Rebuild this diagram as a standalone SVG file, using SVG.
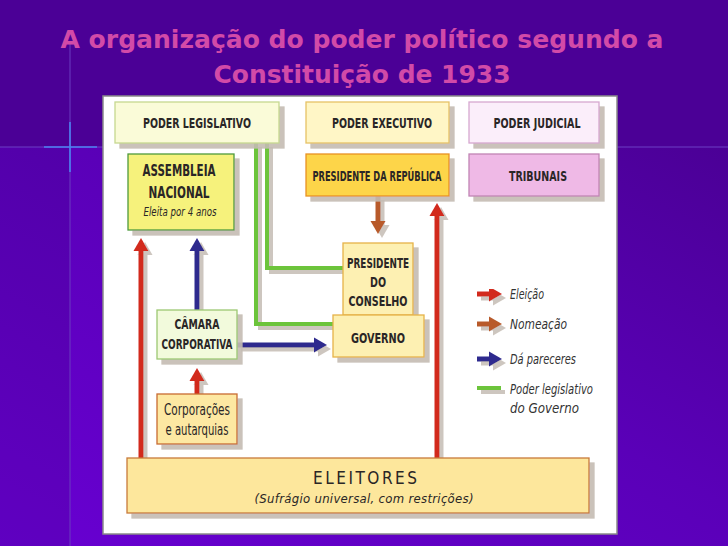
<svg xmlns="http://www.w3.org/2000/svg" width="728" height="546" viewBox="0 0 728 546">
<defs>
<linearGradient id="bgLow" x1="0" y1="1" x2="1" y2="0">
<stop offset="0" stop-color="#6800d2"/>
<stop offset="0.55" stop-color="#5a00b8"/>
<stop offset="1" stop-color="#4b0096"/>
</linearGradient>
<filter id="sh" x="-10%" y="-10%" width="130%" height="130%">
<feDropShadow dx="5" dy="5" stdDeviation="0.6" flood-color="#c4bcb2" flood-opacity="0.9"/>
</filter>
<filter id="ash" x="-20%" y="-5%" width="150%" height="120%">
<feDropShadow dx="4" dy="4" stdDeviation="0.5" flood-color="#c8c0b8" flood-opacity="0.9"/>
</filter>
<marker id="hRed" markerUnits="userSpaceOnUse" markerWidth="13" markerHeight="15" refX="0" refY="7.5" orient="auto" overflow="visible">
<path d="M0,0 L13,7.5 L0,15 Z" fill="#d22a1e"/>
</marker>
<marker id="hBlue" markerUnits="userSpaceOnUse" markerWidth="13" markerHeight="15" refX="0" refY="7.5" orient="auto" overflow="visible">
<path d="M0,0 L13,7.5 L0,15 Z" fill="#2e2a8e"/>
</marker>
<marker id="hBrown" markerUnits="userSpaceOnUse" markerWidth="13" markerHeight="15" refX="0" refY="7.5" orient="auto" overflow="visible">
<path d="M0,0 L13,7.5 L0,15 Z" fill="#b85a2a"/>
</marker>
<style>
.lbl{font-family:"DejaVu Sans Condensed","DejaVu Sans",sans-serif;font-stretch:condensed;font-weight:bold;font-size:14px;fill:#2a2626;text-anchor:middle}
.big{font-size:16px}
.it{font-family:"DejaVu Sans Condensed","DejaVu Sans",sans-serif;font-stretch:condensed;font-style:italic;font-size:13px;fill:#2a2626}
.leg{font-family:"DejaVu Sans Condensed","DejaVu Sans",sans-serif;font-stretch:condensed;font-style:italic;font-size:14px;fill:#333}
.box{stroke-width:1.3}
.red{stroke:#d22a1e;stroke-width:5;fill:none}
.blue{stroke:#2e2a8e;stroke-width:5;fill:none}
.brown{stroke:#b85a2a;stroke-width:5;fill:none}
.green{stroke:#6cc43a;stroke-width:4;fill:none}
.title{font-family:"DejaVu Sans",sans-serif;font-weight:bold;font-size:24px;fill:#d24aa8;text-anchor:middle}
</style>
</defs>
<!-- background -->
<rect x="0" y="0" width="728" height="546" fill="#4b0096"/>
<rect x="0" y="147" width="728" height="399" fill="url(#bgLow)"/>
<rect x="0" y="147" width="70" height="399" fill="#000" opacity="0.08"/>
<line x1="0" y1="147" x2="728" y2="147" stroke="#6d3ec4" stroke-width="1"/>
<line x1="70" y1="42" x2="70" y2="546" stroke="#6a3cc0" stroke-width="1"/>
<line x1="44" y1="147" x2="97" y2="147" stroke="#4c82f2" stroke-width="1.6"/>
<line x1="70" y1="122" x2="70" y2="172" stroke="#4c82f2" stroke-width="1.6"/>
<!-- title -->
<g id="title">
<text class="title" x="362" y="48" textLength="603" lengthAdjust="spacingAndGlyphs">A organização do poder político segundo a</text>
<text class="title" x="362" y="83" textLength="297" lengthAdjust="spacingAndGlyphs">Constituição de 1933</text>
</g>
<!-- panel -->
<rect x="103" y="96" width="514" height="438" fill="#ffffff" stroke="#8a8a8a" stroke-width="1.5"/>
<!-- connectors -->
<g id="connectors" filter="url(#ash)">
<path class="green" d="M256,143 V324 H333"/>
<path class="green" d="M267,143 V268 H343"/>
<path class="red" d="M141,458 V251" marker-end="url(#hRed)"/>
<path class="blue" d="M197,310 V251" marker-end="url(#hBlue)"/>
<path class="red" d="M197,394 V381" marker-end="url(#hRed)"/>
<path class="blue" d="M237,345 H314" marker-end="url(#hBlue)"/>
<path class="brown" d="M378,196 V221" marker-end="url(#hBrown)"/>
<path class="red" d="M437,458 V216" marker-end="url(#hRed)"/>
</g>
<!-- nodes -->
<g id="poder-legislativo">
<rect class="box" x="115" y="102" width="164" height="41" fill="#fafbd8" stroke="#c6d890" filter="url(#sh)"/>
<text class="lbl" x="197" y="128" textLength="108" lengthAdjust="spacingAndGlyphs">PODER LEGISLATIVO</text>
</g>
<g id="poder-executivo">
<rect class="box" x="306" y="102" width="143" height="41" fill="#fff6c6" stroke="#e6c266" filter="url(#sh)"/>
<text class="lbl" x="382" y="128" textLength="100" lengthAdjust="spacingAndGlyphs">PODER EXECUTIVO</text>
</g>
<g id="poder-judicial">
<rect class="box" x="469" y="102" width="130" height="41" fill="#fbeefa" stroke="#d6a8d0" filter="url(#sh)"/>
<text class="lbl" x="537" y="128" textLength="87" lengthAdjust="spacingAndGlyphs">PODER JUDICIAL</text>
</g>
<g id="assembleia-nacional">
<rect class="box" x="128" y="154" width="106" height="76" fill="#f6f27c" stroke="#4e9a3c" filter="url(#sh)"/>
<text class="lbl big" x="179" y="176" textLength="73" lengthAdjust="spacingAndGlyphs">ASSEMBLEIA</text>
<text class="lbl big" x="179" y="198" textLength="61" lengthAdjust="spacingAndGlyphs">NACIONAL</text>
<text class="it" x="180" y="216" text-anchor="middle" textLength="73" lengthAdjust="spacingAndGlyphs">Eleita por 4 anos</text>
</g>
<g id="presidente-republica">
<rect class="box" x="306" y="154" width="143" height="42" fill="#fdd548" stroke="#e89222" filter="url(#sh)"/>
<text class="lbl" x="377" y="181" textLength="129" lengthAdjust="spacingAndGlyphs">PRESIDENTE DA REPÚBLICA</text>
</g>
<g id="tribunais">
<rect class="box" x="469" y="154" width="130" height="42" fill="#efb9e6" stroke="#c084b4" filter="url(#sh)"/>
<text class="lbl" x="538" y="181" textLength="58" lengthAdjust="spacingAndGlyphs">TRIBUNAIS</text>
</g>
<g id="presidente-conselho">
<rect class="box" x="343" y="243" width="70" height="72" fill="#fdf0b2" stroke="#e6b248" filter="url(#sh)"/>
<text class="lbl" x="378" y="268" textLength="62" lengthAdjust="spacingAndGlyphs">PRESIDENTE</text>
<text class="lbl" x="378" y="287" textLength="16" lengthAdjust="spacingAndGlyphs">DO</text>
<text class="lbl" x="378" y="306" textLength="59" lengthAdjust="spacingAndGlyphs">CONSELHO</text>
</g>
<g id="governo">
<rect class="box" x="333" y="315" width="91" height="42" fill="#fdf0b2" stroke="#e6b248" filter="url(#sh)"/>
<text class="lbl" x="378" y="343" textLength="54" lengthAdjust="spacingAndGlyphs">GOVERNO</text>
</g>
<g id="camara-corporativa">
<rect class="box" x="157" y="310" width="80" height="49" fill="#f2fadc" stroke="#9cc872" filter="url(#sh)"/>
<text class="lbl" x="197" y="329" textLength="45" lengthAdjust="spacingAndGlyphs">CÂMARA</text>
<text class="lbl" x="197" y="349" textLength="71" lengthAdjust="spacingAndGlyphs">CORPORATIVA</text>
</g>
<g id="corporacoes">
<rect class="box" x="157" y="394" width="80" height="50" fill="#fde8a2" stroke="#c86c32" filter="url(#sh)"/>
<text class="lbl big" x="197" y="415" style="font-weight:normal" textLength="66" lengthAdjust="spacingAndGlyphs">Corporações</text>
<text class="lbl big" x="197" y="435" style="font-weight:normal" textLength="63" lengthAdjust="spacingAndGlyphs">e autarquias</text>
</g>
<g id="eleitores">
<rect class="box" x="127" y="458" width="462" height="55" fill="#fde79c" stroke="#c87a3a" filter="url(#sh)"/>
<text class="lbl" x="365" y="484" style="font-weight:normal;font-size:17px" textLength="104" lengthAdjust="spacing">ELEITORES</text>
<text class="it" x="364" y="503" text-anchor="middle" style="font-size:13px" textLength="219" lengthAdjust="spacing">(Sufrágio universal, com restrições)</text>
</g>
<!-- legend -->
<g id="legend">
<g filter="url(#ash)">
<path class="red" d="M477,294 H489" marker-end="url(#hRed)"/>
<path class="brown" d="M477,324 H489" marker-end="url(#hBrown)"/>
<path class="blue" d="M477,359 H489" marker-end="url(#hBlue)"/>
<path class="green" d="M477,388 H501"/>
</g>
<text class="leg" x="510" y="299" textLength="34" lengthAdjust="spacingAndGlyphs">Eleição</text>
<text class="leg" x="510" y="329" textLength="57" lengthAdjust="spacingAndGlyphs">Nomeação</text>
<text class="leg" x="510" y="364" textLength="66" lengthAdjust="spacingAndGlyphs">Dá pareceres</text>
<text class="leg" x="510" y="394" textLength="83" lengthAdjust="spacingAndGlyphs">Poder legislativo</text>
<text class="leg" x="510" y="413" textLength="69" lengthAdjust="spacingAndGlyphs">do Governo</text>
</g>
</svg>
